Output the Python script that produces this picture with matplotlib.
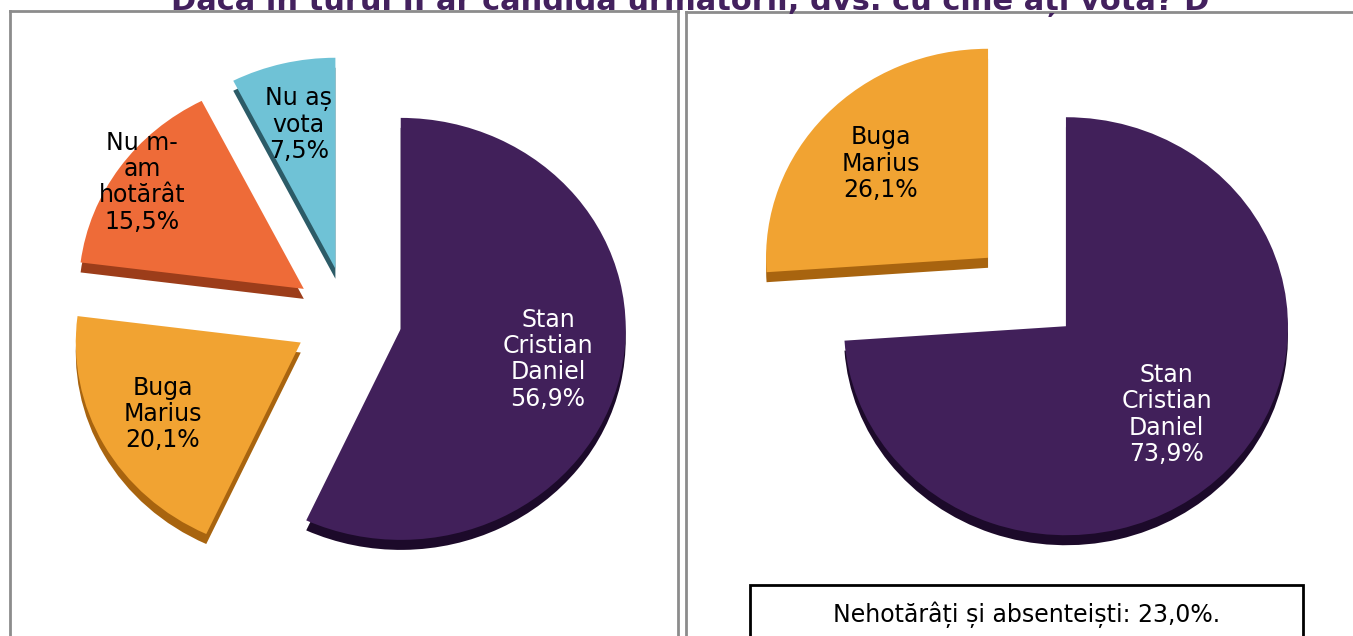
import numpy as np
import matplotlib.pyplot as plt
from matplotlib.patches import Rectangle

# survey results, round II
title = "Dacă în turul II ar candida următorii, dvs. cu cine ați vota? D"

all_names = ["Stan\nCristian\nDaniel", "Buga\nMarius", "Nu m-\nam\nhotărât", "Nu aș\nvota"]
all_values = [56.9, 20.1, 15.5, 7.5]

decided_names = ["Stan\nCristian\nDaniel", "Buga\nMarius"]
decided_values = [73.9, 26.1]

undecided_share = 23.0

top_colors = ["#41205a", "#f1a332", "#ee6b38", "#6fc2d6"]
side_colors = ["#1c0a2a", "#a8640f", "#9c3d1a", "#2c5b67"]
text_colors = ["white", "black", "black", "black"]

W, H = 1353, 636
fig = plt.figure(figsize=(W / 100, H / 100), dpi=100)
FONT = "DejaVu Sans"


def px_axes(x0, y0, x1, y1):
    # x0..x1, y0..y1 in image pixels (y measured from the top)
    return fig.add_axes([x0 / W, 1 - y1 / H, (x1 - x0) / W, (y1 - y0) / H])


def draw_pie(ax, values, names, label_r, cx, cy, rx, ry, box):
    depth = 10 / ry
    n = len(values)
    # darker copy shifted down gives the slices a visible thickness
    ax.pie(values, startangle=90, counterclock=False, explode=[0.24] * n,
           colors=side_colors[:n], center=(0, -depth),
           wedgeprops=dict(linewidth=0))
    wedges, _ = ax.pie(values, startangle=90, counterclock=False,
                       explode=[0.24] * n, colors=top_colors[:n],
                       wedgeprops=dict(linewidth=0))
    for w, name, val, r, col in zip(wedges, names, values, label_r, text_colors):
        mid = np.deg2rad((w.theta1 + w.theta2) / 2)
        x = w.center[0] + r * np.cos(mid)
        y = w.center[1] + r * np.sin(mid)
        ax.text(x, y, f"{name}\n{val:.1f}%".replace(".", ","), ha="center",
                va="center", color=col, fontsize=17, family=FONT,
                linespacing=1.12)
    x0, y0, x1, y1 = box
    ax.set_aspect("auto")
    ax.set_xlim((x0 - cx) / rx, (x1 - cx) / rx)
    ax.set_ylim((cy - y1) / ry, (cy - y0) / ry)
    ax.set_frame_on(True)
    for s in ax.spines.values():
        s.set_color("#8c8c8c")
        s.set_linewidth(2)
    ax.set_xticks([])
    ax.set_yticks([])


left_box = (10, 11, 678, 660)
ax1 = px_axes(*left_box)
draw_pie(ax1, all_values, all_names, [0.67, 0.7, 0.88, 0.7],
         348, 318, 225, 211, left_box)

right_box = (686, 12, 1370, 660)
ax2 = px_axes(*right_box)
draw_pie(ax2, decided_values, decided_names, [0.62, 0.66],
         1027, 292, 222, 209, right_box)

# note box under the second pie
fig.patches.append(Rectangle((750 / W, -0.05), (1303 - 750) / W,
                             0.05 + (H - 585) / H, transform=fig.transFigure,
                             facecolor="white", edgecolor="black", linewidth=2))
fig.text(1027 / W, 1 - 615 / H,
         f"Nehotărâți și absenteiști: {undecided_share:.1f}%.".replace(".", ",", 1),
         ha="center", va="center", fontsize=17, family=FONT)

fig.text(690 / W, 1 - 10 / H, title, ha="center", va="baseline",
         fontsize=22, fontweight="bold", color="#43215e", family=FONT)

fig.savefig("out.png", dpi=100)
